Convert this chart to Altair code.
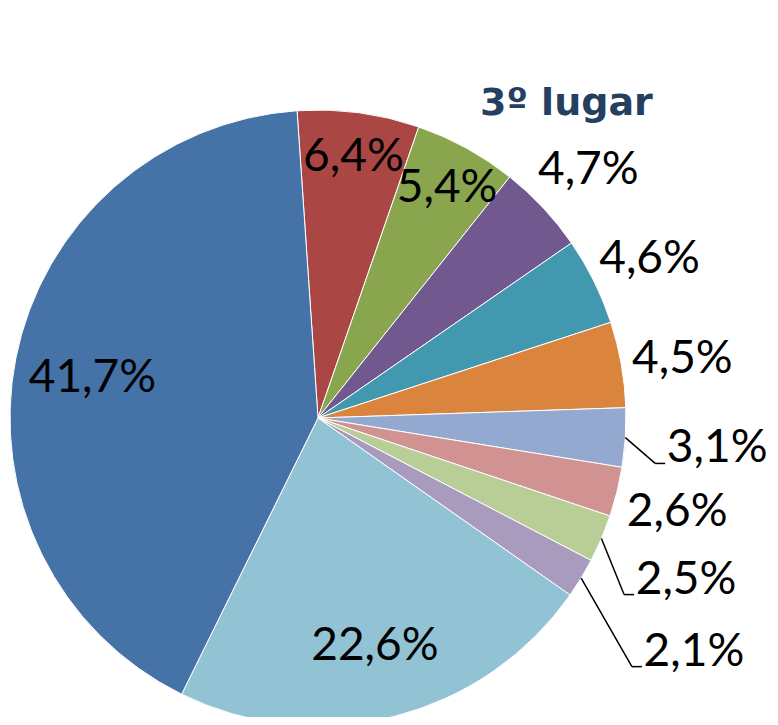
import math
import altair as alt
import pandas as pd

# ---- data ----
rotulos = ["6,4%", "5,4%", "4,7%", "4,6%", "4,5%", "3,1%", "2,6%", "2,5%", "2,1%", "22,6%", "41,7%"]
valores = [6.4, 5.4, 4.7, 4.6, 4.5, 3.1, 2.6, 2.5, 2.1, 22.6, 41.7]
cores = ["#AA4643", "#89A54E", "#71588F", "#4198AF", "#DB843D", "#93A9CF",
         "#D19392", "#B9CD96", "#A99BBD", "#92C3D5", "#4572A7"]
posicoes = ["dentro2", "dentro2", "fora", "fora", "fora", "guia", "fora", "guia", "guia2", "dentro", "dentro"]
titulo = "3º lugar"

df = pd.DataFrame({"rotulo": rotulos, "valor": valores,
                   "ordem": list(range(len(valores))), "posicao": posicoes})

# ---- layout / style ----
W, H = 762, 709          # plot area (px)
CX, CY = 310, 410        # pie centre inside plot area
R = 308                  # pie radius
INICIO = math.radians(-3.9)
RAIOS = {"dentro": 230, "dentro2": 268, "fora": 370, "guia": 400, "guia2": 440}
raio_expr = " : ".join(
    [f"datum.posicao == '{k}' ? {v}" for k, v in RAIOS.items()]) + " : 300"

xs = alt.Scale(domain=[-CX, W - CX], nice=False, zero=False)
ys = alt.Scale(domain=[CY - H, CY], nice=False, zero=False)

base = alt.Chart(df).transform_window(
    acum="sum(valor)", sort=[alt.SortField("ordem")], frame=[None, 0]
).transform_joinaggregate(
    total="sum(valor)"
).transform_calculate(
    a0=f"{INICIO} + 2*PI*(datum.acum - datum.valor)/datum.total",
    a1=f"{INICIO} + 2*PI*datum.acum/datum.total",
).transform_calculate(
    am="(datum.a0 + datum.a1)/2",
    rr=raio_expr,
).transform_calculate(
    lx="datum.rr*sin(datum.am)",
    ly="datum.rr*cos(datum.am)",
)

fatias = base.mark_arc(outerRadius=R, stroke="#ffffff", strokeWidth=1).encode(
    x=alt.X(datum=0, type="quantitative", scale=xs, axis=None),
    y=alt.Y(datum=0, type="quantitative", scale=ys, axis=None),
    theta=alt.Theta("a0:Q", scale=None),
    theta2="a1:Q",
    color=alt.Color("rotulo:N", scale=alt.Scale(domain=rotulos, range=cores), legend=None),
    order=alt.Order("ordem:Q"),
)

textos = base.mark_text(font="Lato", fontSize=46, color="#000000",
                        align="center", baseline="middle", dy=5).encode(
    x=alt.X("lx:Q", scale=xs, axis=None),
    y=alt.Y("ly:Q", scale=ys, axis=None),
    text="rotulo:N",
)

guias = base.transform_filter(
    "indexof(datum.posicao, 'guia') == 0"
).transform_calculate(
    x0=f"{R}*sin(datum.am)",
    y0=f"{R}*cos(datum.am)",
    xf="datum.lx - 52",
    yb="datum.ly - 20",
).transform_calculate(
    xc="datum.xf - 10",
)

guia1 = guias.mark_rule(color="#000000", strokeWidth=1.5).encode(
    x=alt.X("x0:Q", scale=xs, axis=None),
    y=alt.Y("y0:Q", scale=ys, axis=None),
    x2="xc:Q",
    y2="yb:Q",
)
guia2 = guias.mark_rule(color="#000000", strokeWidth=1.5).encode(
    x=alt.X("xc:Q", scale=xs, axis=None),
    y=alt.Y("yb:Q", scale=ys, axis=None),
    x2="xf:Q",
    y2="yb:Q",
)

chart = alt.layer(fatias, guia1, guia2, textos).properties(
    width=W, height=H,
    autosize=alt.AutoSizeParams(type="none"),
    padding=0,
    title=alt.TitleParams(
        text=titulo, font="DejaVu Sans", fontWeight="bold", fontSize=38,
        color="#243F60", anchor="start", frame="group", orient="top",
        baseline="alphabetic", offset=0, dx=472, dy=145,
    ),
).configure(
    background="#ffffff",
    view=alt.ViewConfig(stroke=None),
)

chart.save("out.html", embed_options={"renderer": "svg", "actions": False})
